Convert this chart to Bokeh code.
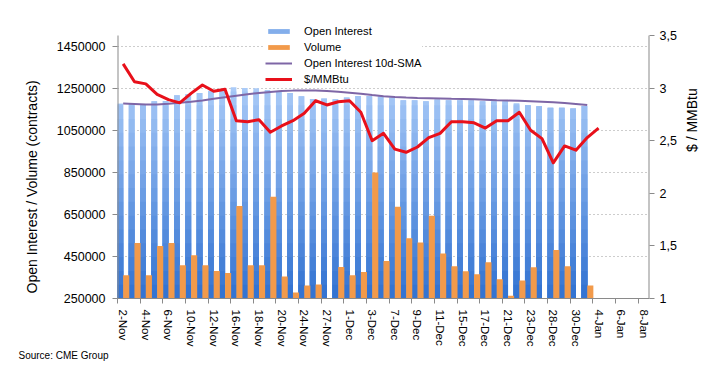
import math
import numpy as np
from bokeh.plotting import figure
from bokeh.models import (Range1d, LinearAxis, FixedTicker, BasicTickFormatter,
                          CustomJSTickFormatter, Legend, LegendItem, Title)
from bokeh.embed import file_html
from bokeh.resources import INLINE

FONT = "Liberation Sans"

dates = ["2-Nov", "3-Nov", "4-Nov", "5-Nov", "6-Nov", "9-Nov", "10-Nov", "11-Nov",
         "12-Nov", "13-Nov", "16-Nov", "17-Nov", "18-Nov", "19-Nov", "20-Nov", "23-Nov",
         "24-Nov", "25-Nov", "27-Nov", "30-Nov", "1-Dec", "2-Dec", "3-Dec", "4-Dec",
         "7-Dec", "8-Dec", "9-Dec", "10-Dec", "11-Dec", "14-Dec", "15-Dec", "16-Dec",
         "17-Dec", "18-Dec", "21-Dec", "22-Dec", "23-Dec", "24-Dec", "28-Dec", "29-Dec",
         "30-Dec", "31-Dec", "4-Jan", "5-Jan", "6-Jan", "7-Jan", "8-Jan"]

open_interest = [1176000, 1176000, 1172000, 1187000, 1189000, 1216000, 1221000, 1227000,
                 1237000, 1240000, 1254000, 1250000, 1249000, 1241500, 1235500, 1227000,
                 1211000, 1198500, 1200500, 1197000, 1205000, 1213000, 1213000, 1210000,
                 1205000, 1192000, 1192000, 1187500, 1195500, 1192000, 1192000, 1192000,
                 1187500, 1187500, 1187500, 1176500, 1168000, 1163500, 1157000, 1157000,
                 1152500, 1165000]

volume = [360000, 514000, 360000, 499000, 514000, 408000, 456000, 408000,
          381000, 371000, 690000, 408000, 408000, 734000, 355000, 279000,
          312000, 317000, 180000, 400000, 360000, 376000, 849000, 428000,
          686000, 536000, 516000, 643000, 464000, 403000, 379000, 365000,
          422000, 341000, 263000, 336000, 398000, 235000, 480000, 403000,
          240000, 312000]

oi_sma10 = [1176400, 1174500, 1172100, 1171600, 1175400, 1180200, 1185000, 1191200,
            1199300, 1206500, 1213700, 1220800, 1226600, 1231800, 1236100, 1238000,
            1239000, 1238500, 1236100, 1232300, 1228000, 1223200, 1217000, 1211300,
            1207400, 1205000, 1203100, 1201700, 1200300, 1198800, 1197900, 1196900,
            1194500, 1192100, 1190700, 1189300, 1187400, 1185000, 1182600, 1179200,
            1174900, 1169200]

price = [3.23, 3.06, 3.04, 2.94, 2.89, 2.86, 2.95, 3.03, 2.97, 2.99, 2.69, 2.68,
         2.70, 2.58, 2.64, 2.69, 2.76, 2.88, 2.84, 2.87, 2.88, 2.77, 2.50, 2.57,
         2.42, 2.39, 2.44, 2.53, 2.57, 2.68, 2.68, 2.67, 2.62, 2.69, 2.69, 2.77,
         2.60, 2.52, 2.29, 2.45, 2.41, 2.53, 2.62]

left_ticks = [250000, 450000, 650000, 850000, 1050000, 1250000, 1450000]
right_ticks = [1, 1.5, 2, 2.5, 3, 3.5]
left_min, left_max = 250000, 1500000
right_min, right_max = 1, 3.5

# layout (pixels)
W, H = 712, 362
FRAME_L, FRAME_R, AXIS_TOP, FRAME_B = 117, 649, 35, 298
FRAME_T = 5          # frame extends above the axes so the legend can overlap it
axis_px = FRAME_B - AXIS_TOP
full_px = FRAME_B - FRAME_T
left_top = left_min + (left_max - left_min) * full_px / axis_px
right_top = right_min + (right_max - right_min) * full_px / axis_px

x_all = np.arange(len(dates))
x_oi = np.arange(len(open_interest))
x_vol = np.arange(len(volume))
x_px = np.arange(len(price))
oi = np.array(open_interest, dtype=float)
xmin, xmax = -0.5, len(dates) - 0.5

p = figure(width=W, height=H, output_backend="svg", toolbar_location=None,
           x_range=Range1d(xmin, xmax), y_range=Range1d(left_min, left_top),
           min_border_left=FRAME_L, min_border_right=W - FRAME_R,
           min_border_top=FRAME_T, min_border_bottom=H - FRAME_B)
p.extra_y_ranges = {"price": Range1d(right_min, right_top)}
p.outline_line_color = None
p.background_fill_color = "white"
p.border_fill_color = "white"

p.xgrid.visible = False
p.ygrid.grid_line_color = "#9a9a9a"
p.ygrid.grid_line_dash = "1 3"
p.ygrid.grid_line_width = 1

# gradient blue bars (layered, light on top, darker toward the bottom)
n_bands = 16
edges = np.linspace(250000, 1300000, n_bands + 1)[1:]
dark = np.array([52, 116, 210])
light = np.array([170, 203, 248])
legend_oi = None
for k in range(n_bands - 1, -1, -1):
    t = k / (n_bands - 1)
    c = dark + (light - dark) * t
    col = "#%02x%02x%02x" % tuple(int(round(v)) for v in c)
    r = p.vbar(x=x_oi - 0.25, width=0.5, bottom=left_min, top=np.minimum(oi, edges[k]),
               fill_color=col, line_color=None)
    if k == 10:
        legend_oi = r

r_vol = p.vbar(x=x_vol + 0.27, width=0.54, bottom=0, top=volume,
               fill_color="#f29a4a", line_color=None)

r_sma = p.line(x=x_oi, y=oi_sma10, line_color="#7e66a6", line_width=2)
r_px = p.line(x=x_px, y=price, y_range_name="price", line_color="#e8101a",
              line_width=3, line_join="round")

# vertical axis lines limited to the axis span
AX_COL = "#8a8a8a"
p.segment(x0=[xmin], y0=[left_min], x1=[xmin], y1=[left_max], line_color=AX_COL, line_width=2)
p.segment(x0=[xmax], y0=[right_min], x1=[xmax], y1=[right_max], line_color=AX_COL,
          line_width=2, y_range_name="price")

# left axis
ya = p.yaxis[0]
ya.ticker = FixedTicker(ticks=left_ticks)
ya.formatter = BasicTickFormatter(use_scientific=False)
ya.major_label_text_font = FONT
ya.major_label_text_font_size = "12.5px"
ya.major_label_text_color = "black"
ya.major_label_standoff = 7
ya.major_tick_out = 5
ya.major_tick_in = 0
ya.minor_tick_out = 0
ya.minor_tick_in = 0
ya.axis_line_color = None
ya.major_tick_line_color = AX_COL

left_title = Title(text="Open Interest / Volume (contracts)", align="left", offset=5,
                   text_font=FONT, text_font_size="14px", text_font_style="normal",
                   text_color="black", standoff=27)
p.add_layout(left_title, "left")

# right axis
ra = LinearAxis(y_range_name="price", axis_label="$ / MMBtu",
                ticker=FixedTicker(ticks=right_ticks),
                formatter=CustomJSTickFormatter(code="return tick.toString().replace('.', ',');"))
ra.axis_label_text_font = FONT
ra.axis_label_text_font_size = "14px"
ra.axis_label_text_font_style = "normal"
ra.axis_label_text_color = "black"
ra.axis_label_standoff = 12
try:
    ra.axis_label_orientation = math.pi / 2
except Exception:
    pass
ra.major_label_text_font = FONT
ra.major_label_text_font_size = "12.5px"
ra.major_label_text_color = "black"
ra.major_label_standoff = 5
ra.major_tick_out = 5
ra.major_tick_in = 0
ra.minor_tick_out = 0
ra.minor_tick_in = 0
ra.axis_line_color = None
ra.major_tick_line_color = AX_COL
p.add_layout(ra, "right")

# bottom axis
xa = p.xaxis[0]
even = [int(i) for i in x_all if i % 2 == 0]
xa.ticker = FixedTicker(ticks=even, minor_ticks=[i - 0.5 for i in range(0, len(dates) + 1, 2)])
xa.major_label_overrides = {i: dates[i] for i in even}
xa.major_label_orientation = "vertical"
xa.major_label_text_font = FONT
xa.major_label_text_font_size = "11.5px"
xa.major_label_text_color = "black"
xa.major_label_standoff = 6
xa.major_tick_out = 0
xa.major_tick_in = 0
xa.minor_tick_out = 5
xa.minor_tick_in = 0
xa.minor_tick_line_color = AX_COL
xa.axis_line_color = AX_COL
xa.axis_label_standoff = 0

legend = Legend(items=[
    LegendItem(label="Open Interest", renderers=[legend_oi]),
    LegendItem(label="Volume", renderers=[r_vol]),
    LegendItem(label="Open Interest 10d-SMA", renderers=[r_sma]),
    LegendItem(label="$/MMBtu", renderers=[r_px]),
], location=(148, 213))
legend.glyph_width = 27
legend.glyph_height = 6
legend.label_height = 12
legend.spacing = 4
legend.padding = 8
legend.margin = 0
legend.label_standoff = 12
legend.label_text_font = FONT
legend.label_text_font_size = "11.2px"
legend.label_text_color = "black"
legend.background_fill_color = "white"
legend.background_fill_alpha = 1.0
legend.border_line_color = None
p.add_layout(legend, "center")

src = Title(text="Source: CME Group", align="left", offset=-99, standoff=0,
            vertical_align="top", text_font=FONT, text_font_size="10px",
            text_font_style="normal", text_color="black")
p.add_layout(src, "below")

open("out.html", "w").write(file_html(p, INLINE))
